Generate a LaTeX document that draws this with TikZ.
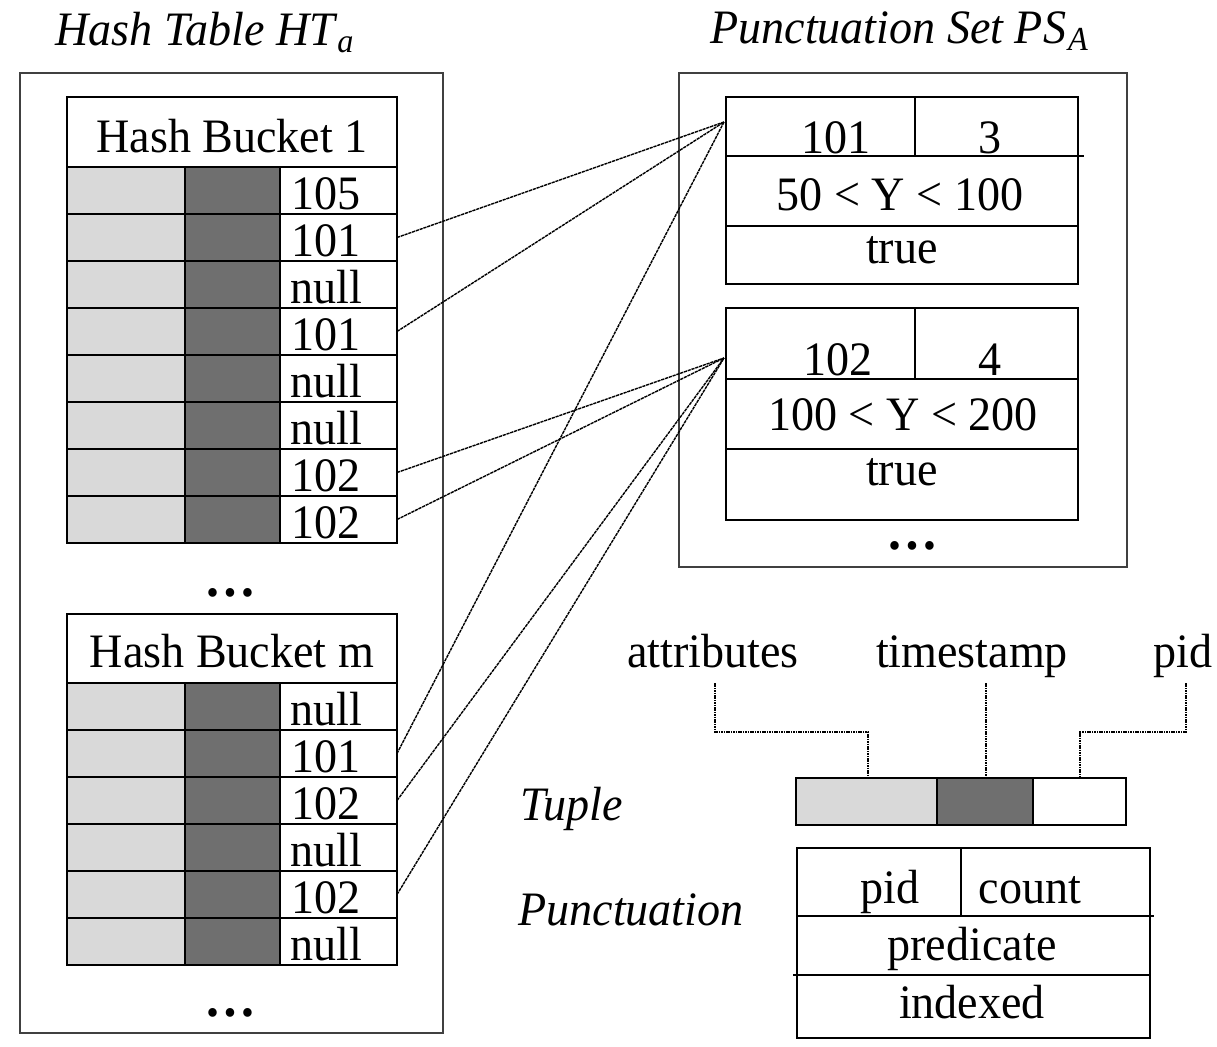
\documentclass[tikz,border=0pt]{standalone}
\usepackage{fontspec}
\setmainfont{Liberation Serif}[FakeStretch=0.96]
\definecolor{lightg}{HTML}{D9D9D9}
\definecolor{darkg}{HTML}{6F6F6F}
\definecolor{frameg}{HTML}{404040}
\tikzset{
  txt/.style={inner sep=0pt, anchor=base},
  ttl/.style={inner sep=0pt, anchor=base west, font=\fontsize{24}{28}\selectfont\itshape},
  frame/.style={draw=frameg, line width=1.2pt},
  grid/.style={draw=black, line width=1pt},
  conn/.style={line width=0.7pt, dash pattern=on 1.6pt off 0.4pt},
  leader/.style={line width=0.6pt, dash pattern=on 0.8pt off 0.4pt},
  dots/.style={inner sep=0pt, anchor=base, font=\fontsize{27}{30}\selectfont\bfseries},
}
\begin{document}
\begin{tikzpicture}[x=0.5pt,y=-0.5pt,font=\fontsize{24}{28}\selectfont]
\useasboundingbox[fill=white] (0,0) rectangle (1217,1046);

% titles
\node[ttl] (htt) at (55,45) {Hash Table HT\kern1pt\textsubscript{a}};
\node[ttl] (pst) at (710,43) {Punctuation Set PS\kern1pt\textsubscript{A}};

% outer frames
\draw[frame] (20,73) rectangle (443,1033);
\draw[frame] (679,73) rectangle (1127,567);

% bucket 1
\draw[grid] (67,97) rectangle (397,167);
\node[txt] (hA) at (232,152) {Hash Bucket 1};
\foreach \v [count=\i from 0] in {105,101,null,101,null,null,102,102} {
  \pgfmathsetmacro\ya{167+47*\i}
  \pgfmathsetmacro\yb{\ya+47}
  \fill[lightg] (67,\ya) rectangle (185,\yb);
  \fill[darkg] (185,\ya) rectangle (280,\yb);
  \draw[grid] (67,\ya) rectangle (397,\yb);
  \draw[grid] (185,\ya) -- (185,\yb) (280,\ya) -- (280,\yb);
  \node[txt] (bA\i) at (326,\yb-5) {\v};
  \coordinate (bAc\i) at (397,\ya+23.5);
}
\draw[grid, line width=1.4pt] (67,167) -- (397,167);
\node[dots] (dA) at (230,596) {…};

% bucket m
\draw[grid] (67,614) rectangle (397,683);
\node[txt] (hM) at (232,667) {Hash Bucket m};
\foreach \v [count=\i from 0] in {null,101,102,null,102,null} {
  \pgfmathsetmacro\ya{683+47*\i}
  \pgfmathsetmacro\yb{\ya+47}
  \fill[lightg] (67,\ya) rectangle (185,\yb);
  \fill[darkg] (185,\ya) rectangle (280,\yb);
  \draw[grid] (67,\ya) rectangle (397,\yb);
  \draw[grid] (185,\ya) -- (185,\yb) (280,\ya) -- (280,\yb);
  \node[txt] (bM\i) at (326,\yb-5) {\v};
  \coordinate (bMc\i) at (397,\ya+23.5);
}
\draw[grid, line width=1.4pt] (67,683) -- (397,683);
\node[dots] (dM) at (230,1016) {…};

% punctuation 1
\draw[grid] (726,97) rectangle (1078,284);
\draw[grid] (726,156) -- (1084,156);
\draw[grid] (726,226) -- (1078,226);
\draw[grid] (915,97) -- (915,156);
\node[txt] (p1a) at (836,153) {101};
\node[txt] (p1b) at (990,153) {3};
\node[txt] (p1c) at (900,210) {50 < Y < 100};
\node[txt] (p1d) at (902,263) {true};
\coordinate (p1in) at (724,122);

% punctuation 2
\draw[grid] (726,308) rectangle (1078,520);
\draw[grid] (726,379) -- (1078,379);
\draw[grid] (726,449) -- (1078,449);
\draw[grid] (915,308) -- (915,379);
\node[txt] (p2a) at (838,375) {102};
\node[txt] (p2b) at (990,375) {4};
\node[txt] (p2c) at (903,430) {100 < Y < 200};
\node[txt] (p2d) at (902,485) {true};
\coordinate (p2in) at (724,358);
\node[dots] (dP) at (912,549) {…};

% connectors
\draw[conn] (bAc1) -- (p1in);
\draw[conn] (bAc3) -- (p1in);
\draw[conn] (bMc1) -- (p1in);
\draw[conn] (bAc6) -- (p2in);
\draw[conn] (bAc7) -- (p2in);
\draw[conn] (bMc2) -- (p2in);
\draw[conn] (bMc4) -- (p2in);

% tuple legend
\node[txt] (la) at (713,667) {attributes};
\node[txt] (lt) at (972,667) {timestamp};
\node[txt] (lp) at (1183,667) {pid};
\fill[lightg] (796,778) rectangle (937,825);
\fill[darkg] (937,778) rectangle (1033,825);
\draw[grid] (796,778) rectangle (1126,825);
\draw[grid] (937,778) -- (937,825) (1033,778) -- (1033,825);
\coordinate (ta) at (868,778);
\coordinate (tt) at (986,778);
\coordinate (tp) at (1080,778);
\draw[leader] (715,683) -- (715,732) -- (868,732) -- (ta);
\draw[leader] (986,683) -- (tt);
\draw[leader] (1186,683) -- (1186,732) -- (1080,732) -- (tp);
\node[ttl] (tl) at (520,820) {Tuple};

% punctuation legend
\node[ttl] (pl) at (518,925) {Punctuation};
\draw[grid] (797,848) rectangle (1150,1038);
\draw[grid] (797,916) -- (1154,916);
\draw[grid] (793,975) -- (1150,975);
\draw[grid] (961,848) -- (961,916);
\node[txt] (lpa) at (890,903) {pid};
\node[txt] (lpb) at (1030,903) {count};
\node[txt] (lpc) at (972,960) {predicate};
\node[txt] (lpd) at (972,1018) {indexed};
\end{tikzpicture}
\end{document}
